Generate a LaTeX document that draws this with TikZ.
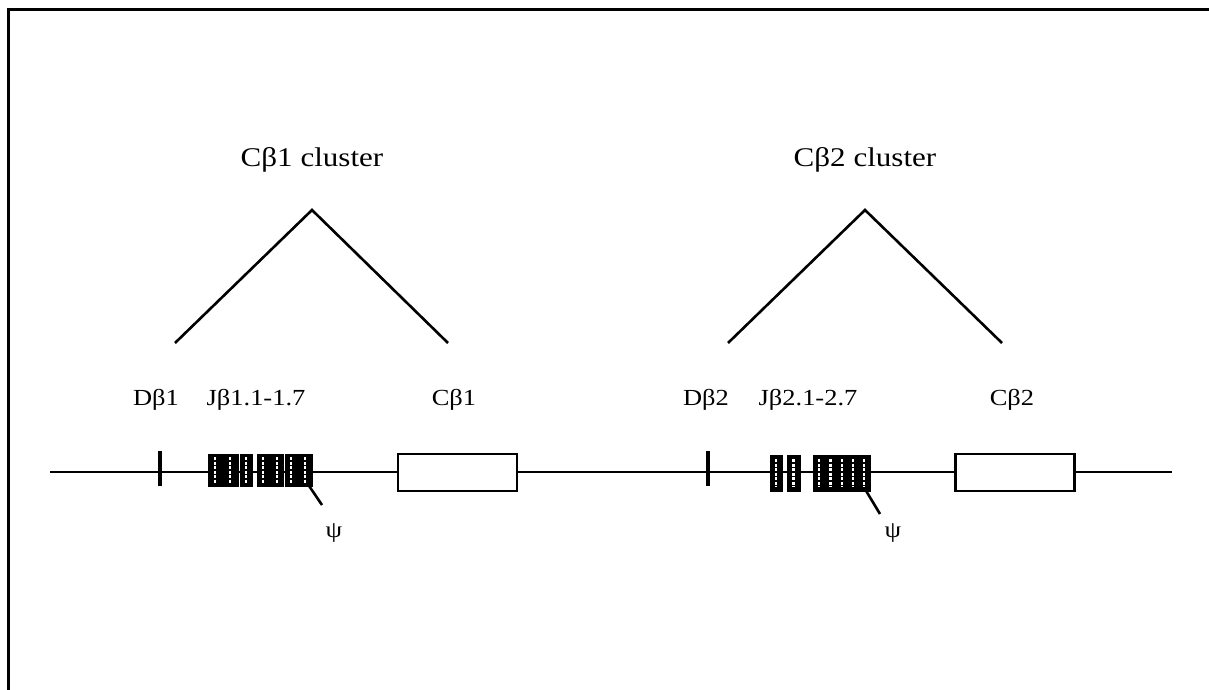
\documentclass[tikz,border=0pt]{standalone}
\usepackage{fontspec}
\setmainfont[FakeStretch=1.15]{Liberation Serif}
\begin{document}
\begin{tikzpicture}[x=1pt,y=-1pt,
  lbl/.style={font=\fontsize{23}{27}\selectfont, inner sep=0pt, anchor=base},
  clbl/.style={lbl, font=\fontsize{27}{30}\selectfont},
  gene/.style={line width=2pt},
  frame/.style={line width=3pt},
  arm/.style={line width=2.6pt},
  tick/.style={fill=black, draw=none, inner sep=0pt, minimum width=3.5pt, minimum height=35pt},
  jseg/.style={fill=black, draw=black, line width=0.8pt, inner sep=0pt},
  stripe/.style={white, line width=2.2pt, dash pattern=on 3pt off 1.5pt},
  cbox/.style={draw=black, fill=white, line width=2.8pt, inner sep=0pt,
               minimum width=119pt, minimum height=37pt},
  psi/.style={line width=2.6pt}]

\useasboundingbox (0,0) rectangle (1209,690);

% open frame: left and top edges only
\draw[frame] (8,690) -- (8,9.5) -- (1209,9.5);

% chromosome backbone
\coordinate (lineL) at (50,472);
\coordinate (lineR) at (1172,472);
\draw[gene] (lineL) -- (lineR);

% ---- C-beta 1 cluster ----
\node[clbl] (clu1) at (312,166) {Cβ1 cluster};
\coordinate (apex1) at (312,210);
\coordinate (foot1L) at (175,343);
\coordinate (foot1R) at (448,343);
\draw[arm] (foot1L) -- (apex1) -- (foot1R);

\node[lbl] (lD1) at (156,405) {Dβ1};
\node[lbl] (lJ1) at (256,405) {Jβ1.1-1.7};
\node[lbl] (lC1) at (454,405) {Cβ1};

\node[tick] (d1) at (160,468.5) {};

\node[jseg, minimum width=30pt, minimum height=32pt] (j1a) at (223,470) {};
\node[jseg, minimum width=12pt, minimum height=32pt] (j1b) at (246,470) {};
\node[jseg, minimum width=26pt, minimum height=32pt] (j1c) at (270,470) {};
\node[jseg, minimum width=27pt, minimum height=32pt] (j1d) at (298.5,470) {};
\foreach \x in {215,230,246,263,277,291,305}
  \draw[stripe] (\x,457) -- (\x,483);

\node[cbox] (c1) at (457.5,472.5) {};

\coordinate (p1) at (322,505);
\draw[psi] (j1d.south east) ++(-3,0) -- (p1);
\node[lbl] (psi1) at (334,537) {ψ};

% ---- C-beta 2 cluster ----
\node[clbl] (clu2) at (865,166) {Cβ2 cluster};
\coordinate (apex2) at (865,210);
\coordinate (foot2L) at (728,343);
\coordinate (foot2R) at (1002,343);
\draw[arm] (foot2L) -- (apex2) -- (foot2R);

\node[lbl] (lD2) at (706,405) {Dβ2};
\node[lbl] (lJ2) at (808,405) {Jβ2.1-2.7};
\node[lbl] (lC2) at (1012,405) {Cβ2};

\node[tick] (d2) at (708,468.5) {};

\node[jseg, minimum width=12pt, minimum height=36pt] (j2a) at (776,473) {};
\node[jseg, minimum width=13pt, minimum height=36pt] (j2b) at (793.5,473) {};
\node[jseg, minimum width=57pt, minimum height=36pt] (j2c) at (841.5,473) {};
\foreach \x in {776,793.5,819,830.5,842,853,864}
  \draw[stripe] (\x,459) -- (\x,487);

\node[cbox] (c2) at (1015,472.5) {};

\coordinate (p2) at (880,514);
\draw[psi] (j2c.south east) ++(-4,0) -- (p2);
\node[lbl] (psi2) at (893,537) {ψ};

\end{tikzpicture}
\end{document}
